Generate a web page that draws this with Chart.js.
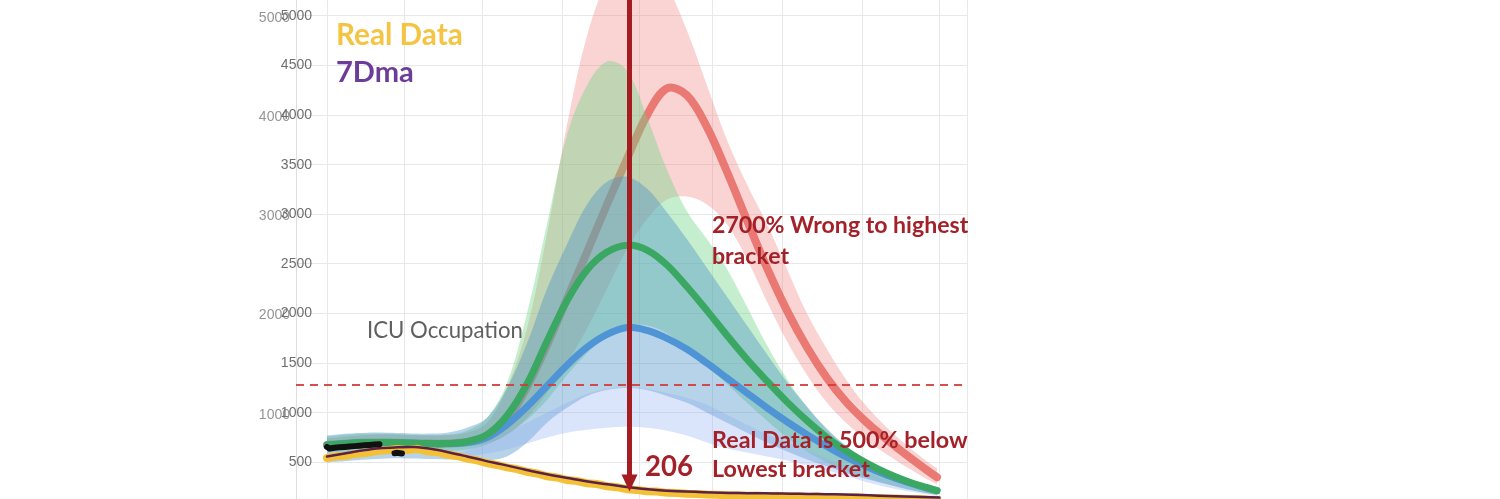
<!DOCTYPE html>
<html>
<head>
<meta charset="utf-8">
<script src="https://cdn.jsdelivr.net/npm/chart.js@4.4.0/dist/chart.umd.min.js"></script>
<style>
  html, body { margin: 0; padding: 0; background: #fff; }
  #wrap { width: 1500px; height: 499px; }
</style>
</head>
<body>
<div id="wrap"><canvas id="chart" width="1500" height="499"></canvas></div>
<script>
// model scenarios, sampled every 8 days
const modelDays = [0,8,16,24,32,40,48,56,64,72,80,88,96,104,112,120,128,136,144,152,160,168,176,184,192,200,208,216,224,232,240,244];

const redMean  = [675,690,700,700,695,690,690,705,760,930,1260,1680,2150,2620,3100,3560,4000,4270,4200,3880,3430,2940,2460,2030,1660,1350,1100,900,730,570,420,350];
const redLow   = [640,650,660,660,660,655,655,660,690,780,950,1200,1500,1850,2250,2650,2950,3150,3180,3100,2900,2550,2120,1720,1380,1100,890,720,580,450,330,280];
const redHigh  = [740,760,775,780,775,770,775,800,900,1250,1850,2800,3900,4800,5350,5600,5550,5300,4850,4300,3750,3300,2900,2450,2000,1640,1320,1060,850,670,510,440];

const greenMean = [675,690,700,700,695,690,690,710,780,970,1290,1720,2130,2440,2620,2690,2640,2490,2270,2030,1780,1540,1320,1110,920,750,610,490,390,310,245,215];
const greenLow  = [600,610,620,625,620,615,615,630,680,780,930,1130,1380,1600,1780,1880,1880,1800,1650,1480,1290,1100,920,750,610,500,410,340,280,230,190,170];
const greenHigh = [760,780,790,790,780,775,780,820,950,1300,2000,2900,3800,4300,4540,4450,3980,3450,3030,2750,2450,2070,1680,1340,1060,830,650,510,400,310,240,210];

const blueMean = [675,690,700,700,695,690,690,700,750,880,1060,1270,1480,1660,1790,1860,1830,1750,1640,1500,1350,1200,1050,910,780,660,550,455,370,300,240,215];
const blueLow  = [500,515,530,540,540,535,530,525,520,560,700,900,1050,1170,1230,1250,1230,1170,1100,1000,900,800,700,610,530,460,390,330,280,230,190,175];
const blueHigh = [770,790,800,800,795,790,800,850,950,1250,1700,2250,2700,3100,3330,3380,3260,3020,2750,2460,2170,1880,1590,1310,1060,840,660,510,390,300,230,210];

// lowest bracket
const lowHigh = [null,null,null,null,null,null,560,620,700,800,900,1000,1100,1190,1240,1260,1240,1200,1150,1080,980,880,780,700,620,540,460,390,320,260,210,195];
const lowLow  = [null,null,null,null,null,null,540,560,590,630,690,750,800,830,850,860,850,820,770,700,640,600,560,520,470,420,360,300,250,210,180,170];

// real data (every 4 days) and 7 day moving average
const realDays = [0,4,8,12,16,20,24,28,32,36,40,44,48,52,56,60,64,68,72,76,80,84,88,92,96,100,104,108,112,116,120,124,128,132,136,140,144,148,152,156,160,164,168,172,176,180,184,188,192,196,200,204,208,212,216,220,224,228,232,236,240,244];
const realData = [545,562,570,588,598,615,622,634,626,636,612,603,580,565,538,520,492,474,450,432,405,388,360,348,322,312,290,282,260,250,230,222,210,207,193,192,183,182,176,174,168,170,163,166,158,164,155,158,152,155,148,150,146,148,140,141,135,136,130,131,125,124];

const maDays = [0,7,14,21,28,35,42,49,56,63,70,77,84,91,98,105,112,119,126,133,140,147,154,161,168,175,182,189,196,203,210,217,224,231,238,245];
const ma7 = [560,590,620,643,652,655,635,600,560,518,480,440,400,365,335,305,280,255,235,220,210,203,196,192,190,188,186,184,181,178,174,168,162,156,150,145];

// data the model was fitted on
const fitDays = [0,1,3,5,7,9,11,13,15,17,19,21,22,27,28,30];
const fitData = [655,640,648,652,656,660,664,668,672,676,680,684,null,592,596,590];

const yTicks = [500,1000,1500,2000,2500,3000,3500,4000,4500,5000];
const ghostTicks = [1000,2000,3000,4000,5000];
const xGridDays = [0,31,62,94,125,154,182,214,245];
const icuLimit = 1280;
const arrowDay = 121;
const arrowValue = 206;

const pts = (xs, ys) => xs.map((x, i) => ({x: x, y: ys[i]}));

function band(data, color, order) {
  return {data: data, borderWidth: 0, pointRadius: 0, fill: color ? '-1' : false,
          backgroundColor: color || 'transparent', order: order};
}
function curve(data, color, width, order) {
  return {data: data, borderColor: color, borderWidth: width, pointRadius: 0, fill: false, order: order};
}

function fitText(ctx, text, x, y, w, weight, color) {
  ctx.font = weight + ' 20px Lato';
  const s = 20 * w / ctx.measureText(text).width;
  ctx.font = weight + ' ' + s.toFixed(1) + 'px Lato';
  ctx.fillStyle = color;
  ctx.fillText(text, x, y);
  return s;
}

const overlay = {
  id: 'overlay',
  afterDatasetsDraw(chart) {
    const {ctx, chartArea: a, scales: {x, y}} = chart;
    ctx.save();

    // ICU capacity line
    const ly = y.getPixelForValue(icuLimit);
    ctx.strokeStyle = 'rgba(210,60,60,0.9)';
    ctx.lineWidth = 2;
    ctx.setLineDash([8, 6]);
    ctx.beginPath(); ctx.moveTo(a.left, ly); ctx.lineTo(a.right, ly); ctx.stroke();
    ctx.setLineDash([]);

    // arrow down to the real value
    const ax = x.getPixelForValue(arrowDay), tip = y.getPixelForValue(arrowValue);
    ctx.strokeStyle = '#a51d21';
    ctx.fillStyle = '#a51d21';
    ctx.lineWidth = 5;
    ctx.beginPath(); ctx.moveTo(ax, a.top); ctx.lineTo(ax, tip - 14); ctx.stroke();
    ctx.beginPath(); ctx.moveTo(ax - 8, tip - 17); ctx.lineTo(ax + 8, tip - 17); ctx.lineTo(ax, tip); ctx.closePath(); ctx.fill();

    // axis labels (ghost copy first, then the real ones)
    ctx.font = '14px "Liberation Sans"';
    ctx.textAlign = 'right';
    ctx.textBaseline = 'middle';
    ctx.fillStyle = 'rgba(130,130,130,0.85)';
    ghostTicks.forEach(v => ctx.fillText(String(v), 290, y.getPixelForValue(v) + 2));
    ctx.fillStyle = '#6f6f6f';
    yTicks.forEach(v => ctx.fillText(String(v), 312, y.getPixelForValue(v)));

    ctx.textAlign = 'left';
    ctx.textBaseline = 'alphabetic';
    fitText(ctx, 'Real Data', 336, 45, 127, 'bold', '#f4c443');
    fitText(ctx, '7Dma', 336, 82, 78, 'bold', '#6b3c98');
    fitText(ctx, 'ICU Occupation', 367, 338, 156, 'normal', '#606060');

    const red = '#a3222a';
    const s1 = fitText(ctx, '2700% Wrong to highest', 712, 233, 256, 'bold', red);
    ctx.font = 'bold ' + s1.toFixed(1) + 'px Lato';
    ctx.fillText('bracket', 712, 264);
    const s2 = fitText(ctx, 'Real Data is 500% below', 712, 448, 256, 'bold', red);
    ctx.font = 'bold ' + s2.toFixed(1) + 'px Lato';
    ctx.fillText('Lowest bracket', 712, 477);
    fitText(ctx, String(arrowValue), 645, 476, 48, 'bold', red);

    ctx.restore();
  }
};

new Chart(document.getElementById('chart'), {
  type: 'line',
  data: {
    datasets: [
      band(pts(modelDays, redLow), null, 12),
      band(pts(modelDays, redHigh), 'rgba(240,120,120,0.33)', 11),
      curve(pts(modelDays, redMean), 'rgba(232,110,104,0.9)', 8, 10),
      band(pts(modelDays, greenLow), null, 9),
      band(pts(modelDays, greenHigh), 'rgba(115,215,135,0.42)', 8),
      band(pts(modelDays, blueLow), null, 7),
      band(pts(modelDays, blueHigh), 'rgba(75,145,200,0.4)', 6),
      band(pts(modelDays, lowLow), null, 5),
      band(pts(modelDays, lowHigh), 'rgba(140,170,240,0.32)', 4),
      curve(pts(modelDays, greenMean), '#3aa862', 7, 3),
      curve(pts(modelDays, blueMean), '#4f94d4', 7, 3),
      Object.assign(curve(pts(realDays, realData), '#f4c136', 8, 2), {tension: 0}),
      curve(pts(maDays, ma7), '#5b2146', 2.5, 1),
      Object.assign(curve(pts(fitDays, fitData), '#111111', 6, 0), {tension: 0})
    ]
  },
  options: {
    responsive: false,
    animation: false,
    devicePixelRatio: 1,
    layout: { padding: { left: 236, right: 533, top: 0, bottom: 0 } },
    elements: { line: { tension: 0.35, borderCapStyle: 'round' } },
    plugins: { legend: { display: false }, tooltip: { enabled: false } },
    scales: {
      x: {
        type: 'linear', min: -12.4, max: 256,
        afterBuildTicks: s => { s.ticks = xGridDays.concat([256]).map(v => ({value: v})); },
        ticks: { display: false },
        grid: { color: '#e8e8e8', drawTicks: false },
        border: { display: false },
        afterFit: s => { s.height = 0; }
      },
      y: {
        min: 131, max: 5161,
        afterBuildTicks: s => { s.ticks = yTicks.map(v => ({value: v})); },
        ticks: { display: false },
        grid: { color: '#e8e8e8', drawTicks: false },
        border: { display: true, color: '#dedede' },
        afterFit: s => { s.width = 60; }
      }
    }
  },
  plugins: [overlay]
});
</script>
</body>
</html>
